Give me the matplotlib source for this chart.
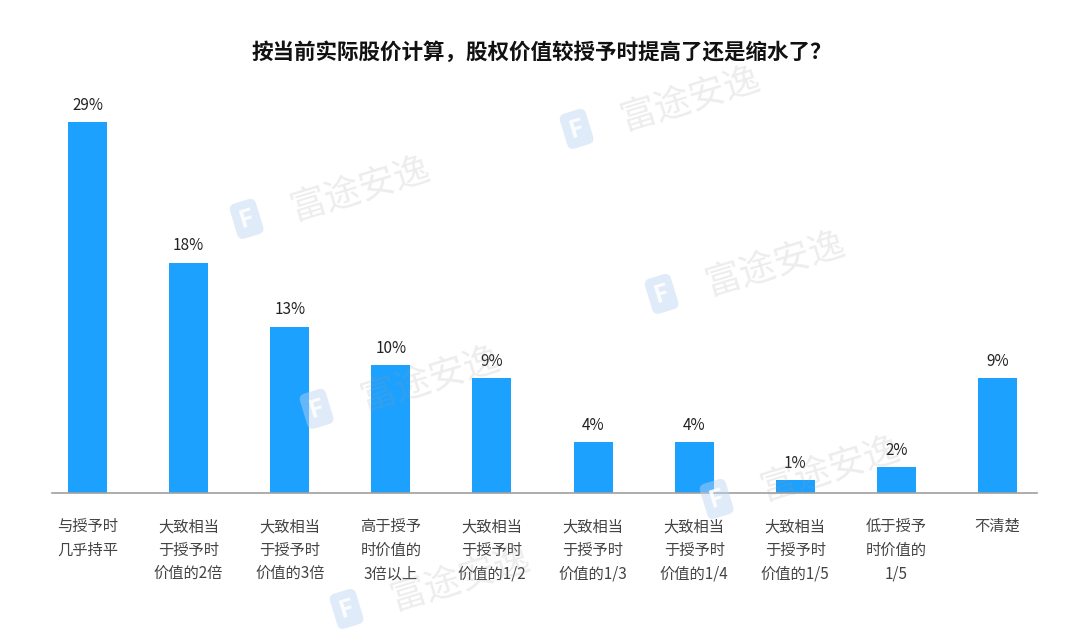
import matplotlib
matplotlib.use("Agg")
import matplotlib.pyplot as plt
import numpy as np

plt.rcParams['font.family'] = ['Noto Sans CJK SC', 'DejaVu Sans']

# data
title = "按当前实际股价计算，股权价值较授予时提高了还是缩水了？"
categories = [
    "与授予时\n几乎持平",
    "大致相当\n于授予时\n价值的2倍",
    "大致相当\n于授予时\n价值的3倍",
    "高于授予\n时价值的\n3倍以上",
    "大致相当\n于授予时\n价值的1/2",
    "大致相当\n于授予时\n价值的1/3",
    "大致相当\n于授予时\n价值的1/4",
    "大致相当\n于授予时\n价值的1/5",
    "低于授予\n时价值的\n1/5",
    "不清楚",
]
values = [29, 18, 13, 10, 9, 4, 4, 1, 2, 9]

# watermark spots (pixel centres of the text), only the ones fully inside
wm_x = [690, 360, 775, 430, 830, 460]
wm_y = [100, 190, 265, 380, 470, 580]

fig = plt.figure(figsize=(10.8, 6.42), dpi=100)
ax = fig.add_axes([0.0481, 0.232, 0.912, 0.618])

x = np.arange(len(values))
bars = ax.bar(x, values, width=0.386, color='#1DA1FF', zorder=2)

for b, v in zip(bars, values):
    ax.annotate(f"{v}%", (b.get_x() + b.get_width() / 2, v),
                xytext=(0, 6), textcoords='offset points',
                ha='center', va='bottom', fontsize=11, color='#222222')

ax.set_xlim(-0.352, 9.39)
ax.set_ylim(0, 31)
ax.set_xticks(x)
ax.set_xticklabels(categories, fontsize=11, color='#444444', linespacing=1.5,
                   va='top')
ax.tick_params(axis='x', length=0, pad=18)
ax.set_yticks([])
for s in ['top', 'right', 'left']:
    ax.spines[s].set_visible(False)
ax.spines['bottom'].set_color('#a0a0a0')
ax.spines['bottom'].set_linewidth(1.2)

fig.text(0.502, 0.919, title, ha='center', va='center', fontsize=15.5,
         fontweight='bold', color='#111111')

# faint watermark
for px, py in zip(wm_x, wm_y):
    fx, fy = px / 1080, 1 - py / 642
    fig.text(fx, fy, "富途安逸", ha='center', va='center', fontsize=26,
             rotation=17, color='#9a9a9a', alpha=0.18, zorder=5)
    fig.text(fx - 0.105, fy - 0.045, "F", ha='center', va='center', fontsize=18,
             rotation=17, color='white', fontweight='bold', alpha=0.9, zorder=5,
             bbox=dict(boxstyle='round,pad=0.25', fc='#bcd3f2', ec='none', alpha=0.45))

fig.savefig("out.png", dpi=100)
